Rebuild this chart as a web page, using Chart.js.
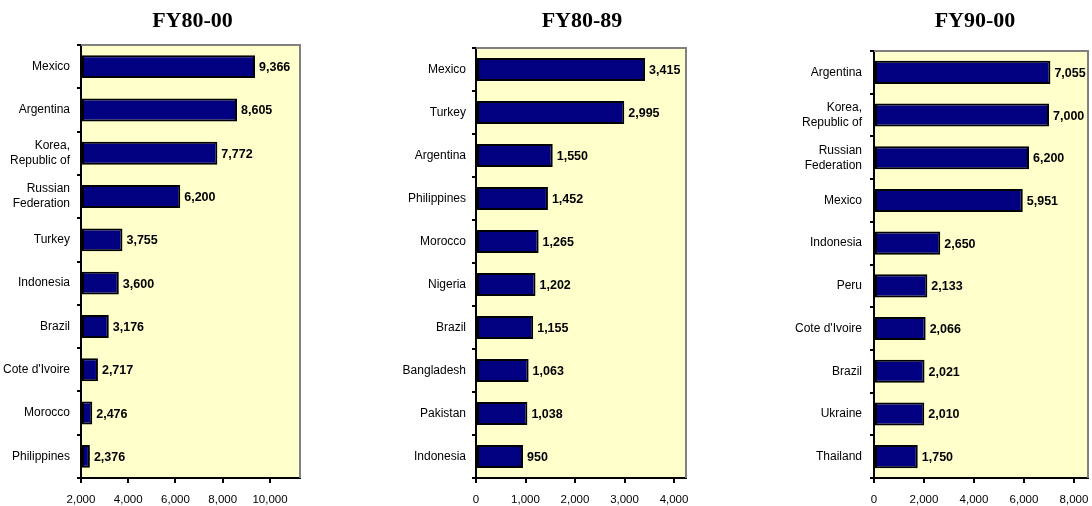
<!DOCTYPE html>
<html><head><meta charset="utf-8">
<script src="https://cdn.jsdelivr.net/npm/chart.js@4"></script>
<style>
html,body{margin:0;padding:0;background:#fff;width:1092px;height:506px;overflow:hidden}
canvas{position:absolute;top:0}
</style></head><body>
<canvas id="c1" width="320" height="506" style="left:0"></canvas>
<canvas id="c2" width="364" height="506" style="left:364px"></canvas>
<canvas id="c3" width="364" height="506" style="left:728px"></canvas>
<script>
// ---- data ----
const titles = ['FY80-00', 'FY80-89', 'FY90-00'];

const cats1 = ['Mexico', 'Argentina', ['Korea,', 'Republic of'], ['Russian', 'Federation'], 'Turkey', 'Indonesia', 'Brazil', "Cote d'Ivoire", 'Morocco', 'Philippines'];
const vals1 = [9366, 8605, 7772, 6200, 3755, 3600, 3176, 2717, 2476, 2376];
const xTicks1 = [2000, 4000, 6000, 8000, 10000];

const cats2 = ['Mexico', 'Turkey', 'Argentina', 'Philippines', 'Morocco', 'Nigeria', 'Brazil', 'Bangladesh', 'Pakistan', 'Indonesia'];
const vals2 = [3415, 2995, 1550, 1452, 1265, 1202, 1155, 1063, 1038, 950];
const xTicks2 = [0, 1000, 2000, 3000, 4000];

const cats3 = ['Argentina', ['Korea,', 'Republic of'], ['Russian', 'Federation'], 'Mexico', 'Indonesia', 'Peru', "Cote d'Ivoire", 'Brazil', 'Ukraine', 'Thailand'];
const vals3 = [7055, 7000, 6200, 5951, 2650, 2133, 2066, 2021, 2010, 1750];
const xTicks3 = [0, 2000, 4000, 6000, 8000];

// ---- setup ----
Chart.defaults.font.family = "'Liberation Sans', Arial, sans-serif";
Chart.defaults.color = '#000';

const areaPlugin = {
  id: 'area',
  beforeDraw(chart) {
    const a = chart.chartArea, ctx = chart.ctx;
    ctx.save();
    ctx.fillStyle = '#FFFFCC';
    ctx.fillRect(a.left, a.top, a.right - a.left, a.bottom - a.top);
    ctx.restore();
  },
  afterDraw(chart, args, opts) {
    const a = chart.chartArea, ctx = chart.ctx;
    ctx.save();
    ctx.strokeStyle = '#808080';
    ctx.lineWidth = 2;
    ctx.beginPath();
    ctx.moveTo(a.left, a.top);
    ctx.lineTo(a.right, a.top);
    ctx.lineTo(a.right, a.bottom);
    ctx.stroke();
    // title
    ctx.fillStyle = '#000';
    ctx.font = "bold 22px 'Liberation Serif', 'Times New Roman', serif";
    ctx.textAlign = 'center';
    ctx.textBaseline = 'alphabetic';
    ctx.fillText(opts.title, (a.left + a.right) / 2 + opts.dx, 27);
    // value labels
    const meta = chart.getDatasetMeta(0);
    ctx.font = "bold 12.5px 'Liberation Sans', Arial, sans-serif";
    ctx.textAlign = 'left';
    ctx.textBaseline = 'middle';
    meta.data.forEach((bar, i) => {
      const v = chart.data.datasets[0].data[i];
      ctx.fillText(v.toLocaleString('en-US'), bar.x + 4, bar.y + 1);
    });
    ctx.restore();
  }
};

function makeChart(id, title, dx, cats, vals, ticks, min, max, yWidth, padTop, padRight, labelPad, barPct) {
  return new Chart(document.getElementById(id), {
    type: 'bar',
    plugins: [areaPlugin],
    data: {
      labels: cats,
      datasets: [{
        data: vals,
        base: min,
        backgroundColor: '#000080',
        borderColor: '#000000',
        borderWidth: 2,
        borderSkipped: false,
        barPercentage: barPct,
        categoryPercentage: 1.0
      }]
    },
    options: {
      indexAxis: 'y',
      responsive: false,
      animation: false,
      layout: { padding: { top: padTop, right: padRight, left: 0, bottom: 0 } },
      plugins: {
        legend: { display: false },
        tooltip: { enabled: false },
        area: { title: title, dx: dx }
      },
      scales: {
        x: {
          type: 'linear',
          min: min, max: max,
          afterBuildTicks: s => { s.ticks = ticks.map(v => ({ value: v })); },
          afterFit: s => { s.height = 28; s.paddingLeft = 0; s.paddingRight = 0; },
          grid: { drawOnChartArea: false, drawTicks: true, tickLength: 5, color: '#000', lineWidth: 2 },
          border: { color: '#000', width: 2 },
          ticks: {
            font: { size: 11.5 },
            padding: 10,
            maxRotation: 0,
            callback: v => Number(v).toLocaleString('en-US')
          }
        },
        y: {
          afterFit: s => { s.width = yWidth; s.paddingTop = 0; s.paddingBottom = 0; },
          grid: { drawOnChartArea: false, drawTicks: true, tickLength: 4, color: '#000', lineWidth: 2, offset: true },
          border: { color: '#000', width: 2 },
          ticks: { font: { size: 12, lineHeight: 1.25 }, padding: labelPad, autoSkip: false }
        }
      }
    }
  });
}

makeChart('c1', titles[0], 2, cats1, vals1, xTicks1, 2000, 11270, 81, 45, 20, 7, 0.53);
makeChart('c2', titles[1], 1, cats2, vals2, xTicks2, 0, 4242, 112, 48, 42, 6, 0.54);
makeChart('c3', titles[2], -6, cats3, vals3, xTicks3, 0, 8560, 146, 51, 4, 8, 0.54);
</script>
</body></html>
